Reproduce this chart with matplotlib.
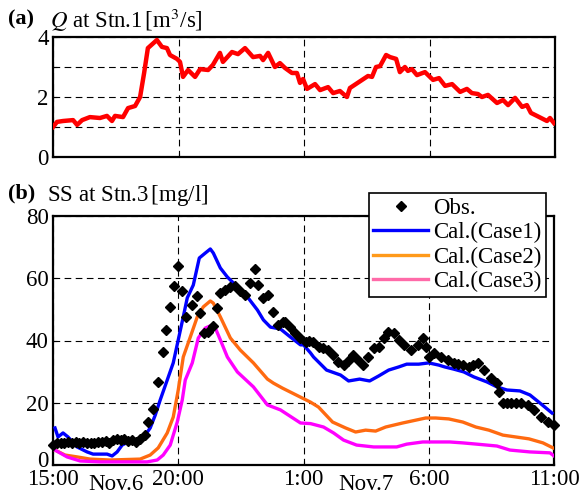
import matplotlib
matplotlib.use("Agg")
import matplotlib.pyplot as plt
import matplotlib.transforms as mtransforms
from matplotlib.lines import Line2D

plt.rcParams['font.family'] = ['Liberation Serif', 'DejaVu Serif']
plt.rcParams['mathtext.fontset'] = 'stix'

# hours after Nov.6 15:00
q_t = [0.0, 0.16, 0.40, 0.80, 0.96, 1.16, 1.47, 1.87, 2.15, 2.35, 2.47, 2.79, 2.99, 3.27, 3.47,
       3.63, 3.78, 4.14, 4.34, 4.54, 4.66, 4.94, 5.06, 5.18, 5.38, 5.66, 5.86, 6.18, 6.37, 6.65,
       6.77, 7.13, 7.37, 7.65, 7.97, 8.25, 8.37, 8.57, 8.84, 9.04, 9.24, 9.52, 9.72, 9.84, 9.96,
       10.12, 10.44, 10.64, 10.96, 11.16, 11.43, 11.71, 11.83, 12.55, 12.71, 12.87, 13.03, 13.27,
       13.43, 13.67, 13.82, 14.02, 14.14, 14.30, 14.50, 14.82, 15.14, 15.38, 15.62, 15.90, 16.22,
       16.49, 16.69, 16.93, 17.09, 17.33, 17.69, 17.93, 18.13, 18.41, 18.69, 18.88, 19.04, 19.28,
       19.68, 19.80, 19.96]
q_val = [1.0, 1.17, 1.2, 1.23, 1.07, 1.23, 1.33, 1.3, 1.37, 1.2, 1.37, 1.33, 1.63, 1.7, 2.0,
         2.8, 3.63, 3.9, 3.67, 3.63, 3.4, 3.27, 3.17, 2.67, 2.9, 2.67, 2.93, 2.9, 3.07, 3.47,
         3.17, 3.5, 3.43, 3.63, 3.33, 3.37, 3.23, 3.47, 3.0, 3.13, 2.97, 2.8, 2.8, 2.47, 2.6,
         2.27, 2.43, 2.23, 2.33, 2.13, 2.2, 2.0, 2.3, 2.7, 2.67, 3.0, 3.03, 3.4,
         3.33, 3.27, 2.83, 3.0, 2.87, 2.93, 2.73, 2.83, 2.57, 2.63, 2.37, 2.43, 2.17,
         2.27, 2.13, 2.1, 2.0, 2.07, 1.8, 1.9, 1.73, 1.97, 1.67, 1.73, 1.47, 1.37,
         1.2, 1.3, 1.13]

obs_t = [0.0, 0.15, 0.3, 0.45, 0.6, 0.75, 0.9, 1.05, 1.2, 1.35, 1.5, 1.65, 1.8, 1.95, 2.1,
         2.25, 2.4, 2.55, 2.7, 2.85, 3.0, 3.15, 3.3, 3.48, 3.68, 3.8, 4.0, 4.2, 4.4, 4.52,
         4.68, 4.84, 5.0, 5.15, 5.32, 5.55, 5.75, 5.87, 6.03, 6.2, 6.4, 6.55, 6.67, 6.87,
         7.07, 7.27, 7.47, 7.67, 7.87, 8.07, 8.2, 8.4, 8.6, 8.8, 9.0, 9.2, 9.28, 9.47, 9.68,
         9.88, 10.08, 10.22, 10.36, 10.6, 10.78, 10.96, 11.16, 11.36, 11.6, 11.78, 11.96, 12.16,
         12.36, 12.56, 12.8, 13.0, 13.2, 13.36, 13.6, 13.8, 14.0, 14.28, 14.56, 14.76, 14.88,
         15.0, 15.2, 15.48, 15.76, 16.0, 16.18, 16.36, 16.6, 16.78, 16.96, 17.2, 17.48, 17.72,
         17.8, 17.96, 18.12, 18.28, 18.48, 18.68, 18.96, 19.2, 19.48, 19.76, 20.0]
obs_val = [6.5, 7.0, 7.0, 7.2, 7.5, 7.0, 7.3, 7.0, 7.5, 7.0, 7.2, 7.0, 7.5, 7.3, 7.8,
           7.2, 8.0, 8.3, 8.0, 8.5, 7.8, 8.0, 7.5, 8.4, 9.6, 13.8, 18.0, 26.7, 36.3, 43.4,
           50.8, 57.5, 63.9, 55.9, 47.6, 51.4, 54.3, 48.8, 42.4, 42.7, 44.7, 50.4, 55.3, 56.2,
           57.2, 57.5, 55.9, 54.6, 58.5, 63.0, 57.8, 53.7, 54.6, 49.2, 45.0, 45.9, 45.9, 44.3, 42.4,
           40.8, 39.5, 39.8, 39.5, 37.9, 37.5, 36.9, 35.3, 33.1, 32.1, 33.5, 35.3, 33.7,
           32.1, 34.7, 37.6, 37.9, 40.8, 42.7, 42.4, 40.2, 38.6, 36.9, 38.6, 40.8, 37.9,
           34.7, 36.0, 34.7, 33.7, 32.8, 32.5, 32.1, 31.5, 32.0, 32.8, 30.5, 28.0, 26.3,
           23.5, 19.9, 20.0, 19.9, 20.0, 19.9, 19.3, 17.7, 15.4, 13.8, 12.9]

c1_t = [0.08, 0.2, 0.4, 0.6, 0.96, 1.36, 1.6, 2.16, 2.36, 2.56, 2.76, 3.0, 3.36, 3.6, 3.88,
        4.08, 4.28, 4.56, 4.8, 5.0, 5.2, 5.36, 5.6, 5.84, 6.08, 6.28, 6.4, 6.68, 6.96, 7.2,
        7.76, 8.16, 8.4, 8.68, 9.08, 9.48, 9.88, 10.0, 10.28, 10.4, 10.92, 11.48, 11.8, 12.24,
        12.64, 13.0, 13.4, 13.8, 14.12, 14.6, 15.0, 15.4, 15.64, 16.0, 16.4, 16.8, 17.32, 17.72,
        18.12, 18.64, 19.04, 19.44, 19.92]
c1_val = [11.9, 9.0, 10.3, 9.0, 5.8, 4.2, 3.5, 3.5, 2.9, 4.2, 6.4, 7.4, 7.4, 8.7, 11.9,
          16.0, 20.9, 27.3, 32.8, 40.2, 47.6, 53.7, 57.8, 66.5, 68.1, 69.4, 68.1, 63.3, 60.4, 58.5,
          54.0, 49.8, 46.6, 44.3, 43.7, 41.1, 38.6, 38.6, 36.0, 34.7, 30.5, 28.9, 27.0, 27.6,
          27.0, 28.6, 30.5, 31.5, 32.4, 32.4, 32.8, 32.1, 31.5, 30.8, 29.9, 28.3, 26.7, 25.1,
          24.1, 23.8, 22.5, 19.9, 16.7]

c2_t = [0.08, 0.48, 0.96, 1.48, 2.28, 3.48, 3.88, 4.2, 4.56, 4.8, 5.0, 5.2, 5.48, 5.76, 6.0,
        6.28, 6.4, 6.68, 7.08, 7.48, 8.0, 8.56, 8.8, 9.16, 9.88, 10.28, 10.6, 11.16, 11.68, 12.08,
        12.48, 12.88, 13.28, 13.96, 14.88, 15.28, 15.8, 16.36, 16.88, 17.4, 17.96, 18.48, 19.0,
        19.56, 19.96]
c2_val = [4.8, 3.2, 2.6, 1.9, 1.6, 1.9, 3.2, 5.5, 10.3, 15.4, 24.1, 34.7, 41.1, 47.6, 50.8,
          52.7, 52.0, 47.6, 40.8, 36.9, 32.8, 27.6, 26.3, 24.7, 21.8, 20.2, 18.6, 13.8, 11.9, 10.6,
          11.2, 10.9, 12.2, 13.5, 15.1, 15.1, 14.8, 13.8, 12.2, 11.2, 9.6, 9.0, 8.4,
          7.1, 5.5]

c3_t = [0.08, 0.56, 1.08, 1.88, 3.76, 4.16, 4.4, 4.68, 4.96, 5.16, 5.28, 5.56, 5.8, 6.08, 6.36,
        6.48, 6.68, 6.96, 7.36, 8.0, 8.56, 9.08, 9.88, 10.28, 10.8, 11.2, 11.6, 12.12, 12.8,
        13.72, 14.12, 14.76, 15.84, 16.36, 16.92, 17.72, 18.24, 19.04, 19.84, 20.0]
c3_val = [4.8, 2.6, 1.3, 1.0, 1.0, 1.6, 3.2, 6.4, 13.8, 20.9, 27.3, 32.8, 40.8, 44.0, 45.0,
          44.0, 40.2, 34.7, 29.9, 25.1, 19.3, 17.7, 13.5, 13.3, 12.2, 10.3, 8.0, 6.4, 5.8,
          5.8, 6.7, 7.4, 7.4, 7.1, 6.7, 6.1, 4.8, 4.2, 3.9, 2.9]

x_ticks = [0, 5, 10, 15, 20]
x_labels = ['15:00', '20:00', '1:00', '6:00', '11:00']

W, H = 583, 497
fig = plt.figure(figsize=(W / 100, H / 100), dpi=100)
ax1 = fig.add_axes([53 / W, 1 - 157 / H, 502 / W, 120 / H])
ax2 = fig.add_axes([53 / W, 1 - 465 / H, 501 / W, 249 / H])

grid_kw = dict(color='black', linestyle=(0, (6, 4)), linewidth=0.8)

ax1.plot(q_t, q_val, color='#ff0000', lw=3.2, zorder=3)
ax1.set_xlim(0, 20)
ax1.set_ylim(0, 4)
ax1.set_xticks(x_ticks)
ax1.set_xticklabels([])
ax1.set_yticks([0, 1, 2, 3, 4])
ax1.set_yticklabels(['0', '', '2', '', '4'])
ax1.grid(True, **grid_kw)

ax2.plot(c1_t, c1_val, color='#0000ff', lw=2.4, zorder=3)
ax2.plot(c2_t, c2_val, color='#ff6a10', lw=2.4, zorder=3)
ax2.plot(c3_t, c3_val, color='#ff00ff', lw=2.4, zorder=3)
ax2.plot(obs_t, obs_val, 'D', color='black', ms=5.5, zorder=4, clip_on=False)
ax2.set_xlim(0, 20)
ax2.set_ylim(0, 80)
ax2.set_xticks(x_ticks)
ax2.set_xticklabels(x_labels)
ax2.set_yticks([0, 20, 40, 60, 80])
ax2.grid(True, **grid_kw)

for ax in (ax1, ax2):
    for s in ax.spines.values():
        s.set_linewidth(1.6)
    ax.tick_params(direction='in', length=3, labelsize=16.5, pad=3)

# nudge the bottom "0" up so it clears "15:00"
lbl0 = ax2.get_yticklabels()[0]
lbl0.set_transform(lbl0.get_transform() + mtransforms.ScaledTranslation(0, 4 / 72, fig.dpi_scale_trans))

ax2.text(2.5, -0.08, 'Nov.6', transform=ax2.get_xaxis_transform(), ha='center', va='center',
         fontsize=16.5)
ax2.text(12.5, -0.08, 'Nov.7', transform=ax2.get_xaxis_transform(), ha='center', va='center',
         fontsize=16.5)

handles = [Line2D([], [], ls='none', marker='D', color='black', ms=5),
           Line2D([], [], color='#0000ff', lw=2.4),
           Line2D([], [], color='#ff9a1a', lw=2.4),
           Line2D([], [], color='#ff6aa8', lw=2.4)]
leg = ax2.legend(handles, ['Obs.', 'Cal.(Case1)', 'Cal.(Case2)', 'Cal.(Case3)'],
                 loc='upper right', bbox_to_anchor=(0.984, 1.092), borderaxespad=0,
                 fontsize=16.5, fancybox=False, edgecolor='black', framealpha=1,
                 handlelength=2.4, handletextpad=0.2, labelspacing=0.15, borderpad=0.2)
leg.get_frame().set_linewidth(1.2)
leg.set_zorder(10)

fig.text(8 / W, 1 - 19 / H, '(a)', fontsize=16, fontweight='bold', va='center')
fig.text(50 / W, 1 - 20 / H, r'$Q$ at Stn.1$\,$[m$^3$/s]', fontsize=16.5, va='center')
fig.text(8 / W, 1 - 193 / H, '(b)', fontsize=16, fontweight='bold', va='center')
fig.text(47 / W, 1 - 195 / H, 'SS at Stn.3$\\,$[mg/l]', fontsize=16.5, va='center')

fig.savefig('out.png', dpi=100)
